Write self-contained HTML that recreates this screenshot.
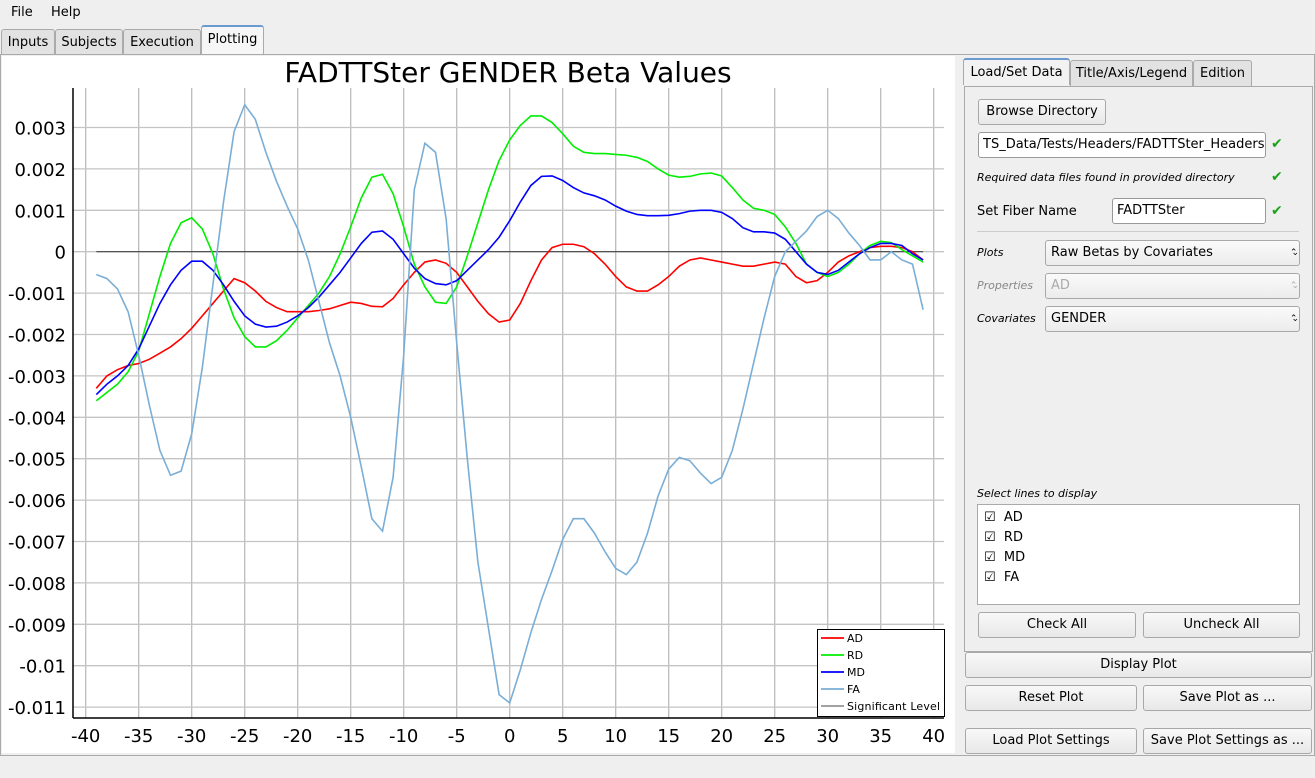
<!DOCTYPE html>
<html><head><meta charset="utf-8"><style>
body{margin:0;width:1315px;height:778px;background:#efefef;font-family:"DejaVu Sans","Liberation Sans",sans-serif;font-size:13px;color:#000;position:relative;overflow:hidden}
.a{position:absolute}
.tab{position:absolute;top:29px;height:25px;border:1px solid #aaa;border-bottom:none;background:#e2e2e2;line-height:25px;text-align:center;border-radius:3px 3px 0 0}
.btn{position:absolute;border:1px solid #a8a8a8;border-radius:3px;background:linear-gradient(#f8f8f8,#e8e8e8);text-align:center;line-height:22px}
.inp{position:absolute;border:1px solid #999;border-radius:3px;background:#fff;line-height:22px;padding-left:4px;overflow:hidden;white-space:nowrap}
.chk{position:absolute;color:#1aa31a;font-size:14px}
.lbl{position:absolute;font-size:11px;font-style:italic}
.sel{position:absolute;border:1px solid #a8a8a8;border-radius:3px;background:linear-gradient(#fafafa,#ececec);line-height:22px;padding-left:5px}
.sel:after{content:"⌃⌄";position:absolute;right:6px;top:0;font-size:9px;letter-spacing:-6px}
</style></head><body>
<div class="a" style="left:0;top:0;width:1315px;height:24px;background:#efefef">
<span class="a" style="left:11px;top:5px">File</span>
<span class="a" style="left:51px;top:5px">Help</span></div>
<div class="tab" style="left:1px;width:52px">Inputs</div>
<div class="tab" style="left:55px;width:66px">Subjects</div>
<div class="tab" style="left:123px;width:76px">Execution</div>
<div class="tab" style="left:201px;width:61px;background:#f6f6f6;top:25px;height:29px;border-top:2px solid #6a9ad0">Plotting</div>
<div class="a" style="left:0;top:54px;width:1313px;height:700px;border:1px solid #aaa;background:#efefef"></div>

<svg class="a" style="left:2px;top:56px" width="953" height="697" id="plot"></svg>

<div class="tab" style="left:963px;top:58px;width:105px;background:#f2f2f2;border-top:2px solid #6a9ad0">Load/Set Data</div>
<div class="tab" style="left:1070px;top:60px;width:121px">Title/Axis/Legend</div>
<div class="tab" style="left:1193px;top:60px;width:57px">Edition</div>
<div class="a" style="left:964px;top:86px;width:347px;height:564px;border:1px solid #aaa;background:#efefef"></div>
<div class="btn" style="left:978px;top:99px;width:126px;line-height:24px">Browse Directory</div>
<div class="inp" style="left:978px;top:132px;width:282px;line-height:24px">TS_Data/Tests/Headers/FADTTSter_Headers</div>
<div class="chk" style="left:1271px;top:136px">✔</div>
<div class="lbl" style="left:977px;top:171px">Required data files found in provided directory</div>
<div class="chk" style="left:1271px;top:169px">✔</div>
<div class="a" style="left:977px;top:204px">Set Fiber Name</div>
<div class="inp" style="left:1112px;top:198px;width:148px;line-height:24px">FADTTSter</div>
<div class="chk" style="left:1271px;top:203px">✔</div>
<div class="a" style="left:977px;top:231px;width:322px;height:1px;background:#ccc"></div>
<div class="lbl" style="left:977px;top:246px">Plots</div>
<div class="sel" style="left:1045px;top:240px;width:248px;line-height:24px">Raw Betas by Covariates</div>
<div class="lbl" style="left:977px;top:279px;color:#888">Properties</div>
<div class="sel" style="left:1045px;top:273px;width:248px;color:#aaa;line-height:24px">AD</div>
<div class="lbl" style="left:977px;top:312px">Covariates</div>
<div class="sel" style="left:1045px;top:306px;width:248px;line-height:24px">GENDER</div>
<div class="lbl" style="left:977px;top:487px">Select lines to display</div>
<div class="a" style="left:977px;top:504px;width:321px;height:99px;border:1px solid #aaa;background:#fff">
<div class="a" style="left:6px;top:5px">☑ &nbsp;AD</div>
<div class="a" style="left:6px;top:25px">☑ &nbsp;RD</div>
<div class="a" style="left:6px;top:45px">☑ &nbsp;MD</div>
<div class="a" style="left:6px;top:65px">☑ &nbsp;FA</div></div>
<div class="btn" style="left:978px;top:612px;width:156px;line-height:24px">Check All</div>
<div class="btn" style="left:1143px;top:612px;width:155px;line-height:24px">Uncheck All</div>
<div class="btn" style="left:965px;top:652px;width:345px;line-height:24px">Display Plot</div>
<div class="btn" style="left:965px;top:685px;width:170px;line-height:24px">Reset Plot</div>
<div class="btn" style="left:1143px;top:685px;width:167px;line-height:24px">Save Plot as ...</div>
<div class="btn" style="left:965px;top:728px;width:170px;line-height:24px">Load Plot Settings</div>
<div class="btn" style="left:1143px;top:728px;width:167px;line-height:24px">Save Plot Settings as ...</div>

<script>
const xs=[];for(let i=-39;i<=39;i++)xs.push(i);
const ad=[-3.3,-3.0,-2.85,-2.75,-2.7,-2.6,-2.45,-2.3,-2.1,-1.85,-1.55,-1.25,-0.95,-0.65,-0.75,-0.95,-1.2,-1.35,-1.45,-1.45,-1.45,-1.42,-1.38,-1.3,-1.22,-1.25,-1.32,-1.33,-1.13,-0.8,-0.5,-0.25,-0.2,-0.28,-0.5,-0.85,-1.2,-1.5,-1.7,-1.65,-1.25,-0.7,-0.2,0.1,0.18,0.18,0.12,-0.05,-0.3,-0.6,-0.85,-0.95,-0.95,-0.8,-0.6,-0.35,-0.2,-0.15,-0.2,-0.25,-0.3,-0.35,-0.35,-0.3,-0.25,-0.3,-0.6,-0.75,-0.7,-0.5,-0.25,-0.1,0.0,0.1,0.13,0.13,0.1,0.0,-0.2];
const rd=[-3.6,-3.4,-3.2,-2.9,-2.4,-1.5,-0.6,0.2,0.7,0.82,0.55,-0.05,-0.9,-1.6,-2.05,-2.3,-2.3,-2.15,-1.9,-1.6,-1.3,-1.0,-0.6,-0.05,0.6,1.3,1.8,1.87,1.4,0.6,-0.3,-0.85,-1.22,-1.25,-0.85,-0.1,0.7,1.5,2.2,2.7,3.05,3.28,3.28,3.12,2.85,2.55,2.4,2.37,2.37,2.35,2.33,2.28,2.18,2.0,1.85,1.8,1.82,1.88,1.9,1.83,1.55,1.25,1.05,1.0,0.9,0.6,0.2,-0.3,-0.5,-0.6,-0.5,-0.3,-0.05,0.15,0.25,0.22,0.05,-0.1,-0.25];
const md=[-3.45,-3.2,-3.0,-2.75,-2.35,-1.8,-1.25,-0.8,-0.45,-0.23,-0.23,-0.45,-0.8,-1.2,-1.55,-1.75,-1.82,-1.8,-1.7,-1.55,-1.35,-1.1,-0.8,-0.5,-0.15,0.2,0.47,0.5,0.3,-0.05,-0.4,-0.65,-0.77,-0.8,-0.7,-0.45,-0.2,0.05,0.35,0.75,1.2,1.6,1.82,1.83,1.72,1.55,1.42,1.35,1.25,1.1,0.98,0.9,0.87,0.87,0.88,0.92,0.98,1.0,1.0,0.95,0.8,0.58,0.48,0.48,0.45,0.3,0.0,-0.3,-0.5,-0.55,-0.45,-0.25,-0.05,0.1,0.2,0.2,0.15,-0.05,-0.2];
const fa=[-0.55,-0.65,-0.9,-1.45,-2.5,-3.7,-4.8,-5.4,-5.3,-4.4,-2.8,-0.8,1.2,2.9,3.55,3.2,2.4,1.7,1.1,0.55,-0.2,-1.2,-2.2,-3.0,-4.0,-5.2,-6.45,-6.75,-5.45,-2.5,1.5,2.62,2.4,0.8,-2.2,-5.0,-7.5,-9.1,-10.7,-10.9,-10.1,-9.2,-8.4,-7.7,-6.95,-6.45,-6.45,-6.8,-7.25,-7.65,-7.8,-7.5,-6.8,-5.9,-5.25,-4.97,-5.05,-5.35,-5.6,-5.45,-4.8,-3.8,-2.7,-1.6,-0.6,0.0,0.25,0.5,0.85,1.0,0.8,0.45,0.15,-0.2,-0.2,0.0,-0.2,-0.3,-1.4];
const xTicks=[-40,-35,-30,-25,-20,-15,-10,-5,0,5,10,15,20,25,30,35,40];
const yTicks=[3,2,1,0,-1,-2,-3,-4,-5,-6,-7,-8,-9,-10,-11];
const yLabels=["0.003","0.002","0.001","0","-0.001","-0.002","-0.003","-0.004","-0.005","-0.006","-0.007","-0.008","-0.009","-0.01","-0.011"];
const seriesNames=["AD","RD","MD","FA"];
const colors=["#ff0000","#00ee00","#0000ff","#7aaed6"];
const X=v=>83.7+(v+40)*10.6;
const Y=v=>195.7-v*41.4;
const svg=document.getElementById('plot');
const NS='http://www.w3.org/2000/svg';
function mk(t,a){const e=document.createElementNS(NS,t);for(const k in a)e.setAttribute(k,a[k]);svg.appendChild(e);return e;}
const bg=mk('rect',{x:0,y:0,width:953,height:697,fill:'#fff'});


const ti=mk('text',{x:506,y:26,'font-size':28,'text-anchor':'middle','font-family':'DejaVu Sans, sans-serif'});ti.textContent='FADTTSter GENDER Beta Values';


xTicks.forEach(t=>{const l=mk('line',{x1:X(t),x2:X(t),y1:32,y2:662,stroke:'#bcbcbc','stroke-width':1.3});


const tx=mk('text',{x:X(t),y:686,'font-size':18,'text-anchor':'middle','font-family':'DejaVu Sans, sans-serif'});tx.textContent=t;

});
yTicks.forEach((t,i)=>{const l=mk('line',{x1:71,x2:942,y1:Y(t),y2:Y(t),stroke:'#c4c4c4','stroke-width':1.3});


const tx=mk('text',{x:64,y:Y(t)+7,'font-size':18,'text-anchor':'end','font-family':'DejaVu Sans, sans-serif'});tx.textContent=yLabels[i];

});
const ax=mk('line',{x1:71,x2:71,y1:32,y2:662,stroke:'#000','stroke-width':1.5});


const bx=mk('line',{x1:71,x2:942,y1:662,y2:662,stroke:'#000','stroke-width':1.5});


const sig=mk('line',{x1:X(xs[0]),x2:X(xs[xs.length-1]),y1:Y(0),y2:Y(0),stroke:'#444','stroke-width':1.2});


[ad,rd,md,fa].forEach((s,k)=>{const p=mk('polyline',{points:s.map((v,i)=>X(xs[i])+','+Y(v)).join(' '),fill:'none',stroke:colors[k],'stroke-width':1.6});

});
const lg=mk('rect',{x:815.5,y:573.5,width:127,height:87,fill:'#fff',stroke:'#000'});


seriesNames.concat(['Significant Level']).forEach((n,i)=>{const yy=582+i*17;
const l=mk('line',{x1:819,x2:842,y1:yy,y2:yy,stroke:i<4?colors[i]:'#444','stroke-width':i<4?1.8:1});


const t=mk('text',{x:845,y:yy+4,'font-size':11,'font-family':'DejaVu Sans, sans-serif'});t.textContent=n;
if(i==4)t.setAttribute('textLength','93');

});
</script>
</body></html>
